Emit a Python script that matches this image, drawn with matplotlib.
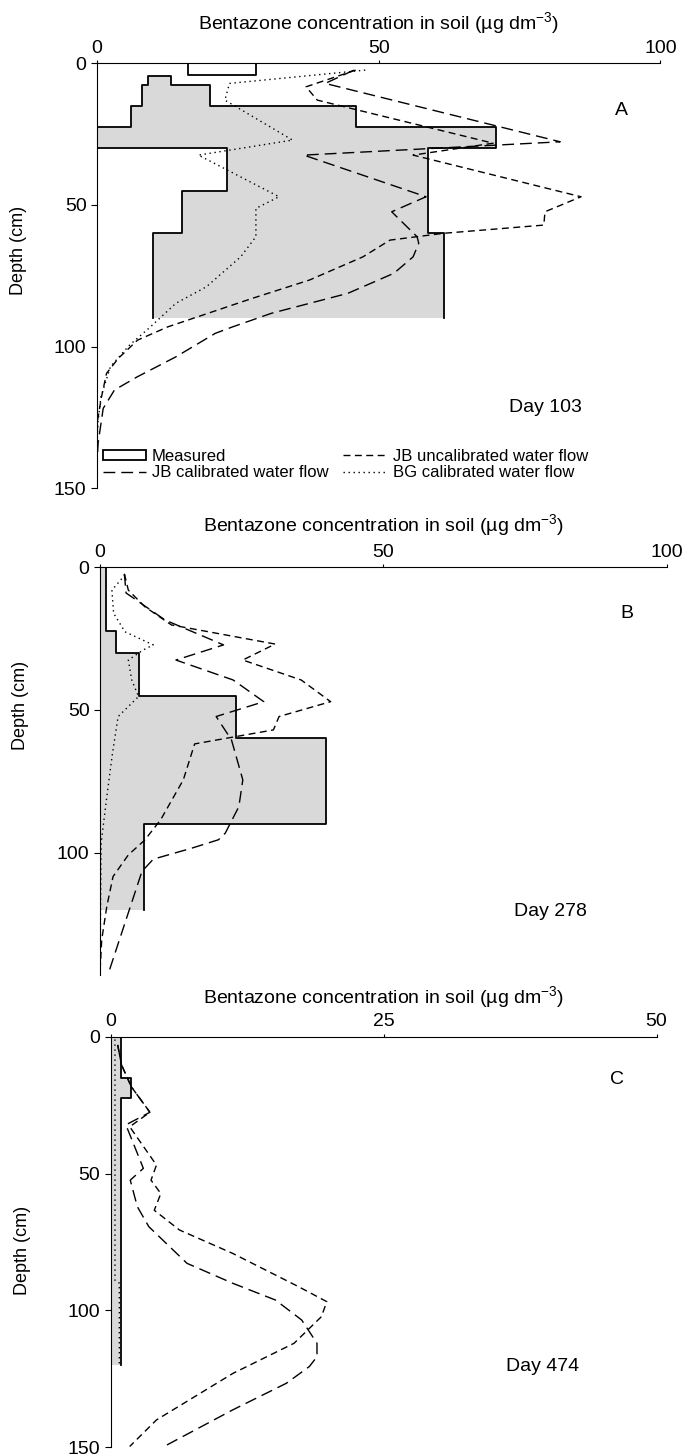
import numpy as np
import matplotlib
matplotlib.use("Agg")
import matplotlib.pyplot as plt

plt.rcParams["font.family"] = ["Liberation Sans", "DejaVu Sans"]
plt.rcParams["mathtext.fontset"] = "custom"
plt.rcParams["mathtext.rm"] = "Liberation Sans"
plt.rcParams["mathtext.it"] = "Liberation Sans:italic"

# ---- Panel A (day 103) ----
a_top_box = [0, 4]            # depth range of unshaded top measured box
a_top_vals = [16.1, 28.2]
a_layer_top = [4.5, 7.5, 15, 22.5, 30, 45, 60]
a_layer_bot = [7.5, 15, 22.5, 30, 45, 60, 90]
a_min = [9.1, 8.0, 6.0, 0.0, 23.0, 15.0, 9.9]
a_max = [13.1, 20.1, 46.0, 70.8, 58.8, 58.8, 61.5]

a_cal_d = [2.4, 7.1, 27.7, 32.4, 47.1, 52.4, 61.2, 63.5, 68.3, 74.1, 81.2, 88.2, 93, 95.3,
           103.6, 110.6, 115.3, 121.8, 134, 141]
a_cal_c = [45.6, 40.5, 82.2, 36.7, 58.4, 52.3, 56.8, 57.1, 56.1, 52.7, 44.5, 31.0, 24.1, 21.0,
           14.0, 7.2, 3.1, 1.1, 0.2, 0.0]
a_unc_d = [2.4, 8.3, 13, 28.2, 32.4, 47.1, 52.4, 57.1, 60, 62.4, 68.3, 76.5, 83, 93, 97.7,
           104.1, 109.4, 117.7, 126, 135]
a_unc_c = [45.9, 37.1, 39.1, 70.3, 56.1, 85.9, 79.5, 79.3, 61.5, 52.0, 47.2, 37.7, 27.5, 12.6,
           7.2, 3.8, 1.7, 0.8, 0.1, 0.0]
a_bg_d = [2.4, 7.1, 13, 27.1, 32.4, 47.1, 51.2, 61.2, 68.3, 78.9, 84.7, 93, 99.4, 107, 117.7,
          126, 133]
a_bg_c = [47.6, 23.5, 22.7, 34.7, 18.0, 32.3, 28.2, 28.2, 25.5, 19.4, 14.0, 9.5, 5.8, 2.4, 0.7,
          0.2, 0.0]

# ---- Panel B (day 278) ----
b_layer_top = [0, 22.5, 30, 45, 60, 90]
b_layer_bot = [22.5, 30, 45, 60, 90, 120]
b_min = [0.0, 0.0, 0.0, 0.0, 0.0, 0.0]
b_max = [1.0, 2.9, 6.9, 24.0, 39.8, 7.8]

b_cal_d = [2.3, 9, 18.5, 27.2, 32.5, 39.5, 47.1, 52.3, 60.5, 74.5, 83.9, 93.2, 95.5, 98.5,
           102.3, 106.6, 124.7, 142.2]
b_cal_c = [4.3, 4.6, 11.5, 21.8, 13.4, 23.5, 28.9, 20.5, 23.2, 25.2, 24.5, 22.1, 20.9, 16.1,
           9.4, 7.4, 4.4, 1.5]
b_unc_d = [2.3, 8, 13.8, 20.2, 26.9, 32.5, 39.5, 47.1, 52.3, 57, 61.9, 74.5, 88.5, 95.6,
           100.8, 108.4, 118.9, 130.6, 142]
b_unc_c = [4.3, 5.0, 7.9, 12.6, 30.9, 25.2, 35.5, 40.7, 31.6, 30.6, 16.7, 14.7, 10.7, 7.9,
           5.0, 2.3, 1.2, 0.3, 0.0]
b_bg_d = [2.7, 8, 16.1, 22.6, 27.2, 29, 32.5, 39.5, 45.3, 52.3, 65.2, 80.4, 96.7, 142]
b_bg_c = [4.4, 2.1, 2.4, 4.4, 9.4, 7.6, 5.0, 5.6, 6.8, 3.2, 2.2, 1.2, 0.2, 0.0]

# ---- Panel C (day 474) ----
c_layer_top = [0, 15, 22.5]
c_layer_bot = [15, 22.5, 120]
c_min = [0.0, 0.0, 0.0]
c_max = [0.95, 1.9, 0.95]

c_cal_d = [3, 10.3, 18.3, 27.6, 32.2, 48.1, 52.4, 62.1, 69.4, 82.8, 90.1, 96.2, 103.5, 112,
           116.9, 120.5, 126.6, 136.3, 149.7]
c_cal_c = [0.65, 1.0, 1.9, 3.6, 1.4, 3.0, 1.8, 2.45, 3.5, 7.0, 11.2, 15.1, 17.5, 18.9, 18.9,
           18.2, 16.1, 11.2, 4.9]
c_unc_d = [3, 10.3, 18.3, 27.6, 32.9, 46.9, 52.4, 57.3, 63.4, 70.6, 79.2, 91.3, 96.8, 102.3,
           112, 123, 140, 149.7]
c_unc_c = [0.65, 1.0, 1.9, 3.6, 1.75, 4.2, 3.7, 4.6, 4.0, 6.3, 11.2, 17.2, 19.8, 19.3, 16.8,
           11.2, 4.2, 1.75]
c_bg_d = [1, 89, 90, 120]
c_bg_c = [0.4, 0.4, 0.8, 0.8]

LONG = (0, (8.5, 4.3))
SHORT = (0, (5, 3.2))
DOT = (0, (1, 2.6))
GRAY = "#d9d9d9"
LW = 1.0

fig = plt.figure(figsize=(6.86, 14.56), dpi=100)
axA = fig.add_axes([0.1414, 0.66463, 0.8214, 0.29189])
axB = fig.add_axes([0.14577, 0.33036, 0.8261, 0.28001])
axC = fig.add_axes([0.16122, 0.005975, 0.79592, 0.28200])


def measured(ax, tops, bots, mins, maxs):
    ys = []
    xmax = []
    xmin = []
    for t, b, lo, hi in zip(tops, bots, mins, maxs):
        ys += [t, b]
        xmin += [lo, lo]
        xmax += [hi, hi]
    ax.fill_betweenx(ys, xmin, xmax, color=GRAY, lw=0, zorder=1)
    # outline: min boundary upward, across the top, max boundary downward
    ox = xmin[::-1] + xmax
    oy = ys[::-1] + ys
    ax.plot(ox, oy, color="black", lw=1.3, zorder=2)


def style(ax, xmax, xticks, ymax, yticks, ylab_y, title_off):
    ax.set_xlim(0, xmax)
    ax.set_ylim(ymax, 0)
    ax.xaxis.tick_top()
    ax.set_xticks(xticks)
    ax.set_yticks(yticks)
    ax.tick_params(axis="x", direction="out", length=2.5, pad=2, labelsize=14, width=0.8)
    ax.tick_params(axis="y", direction="out", length=4.5, pad=3, labelsize=14, width=0.8)
    for s in ["bottom", "right"]:
        ax.spines[s].set_visible(False)
    for s in ["top", "left"]:
        ax.spines[s].set_linewidth(0.8)
    ax.set_ylabel("Depth (cm)", fontsize=13)
    ax.yaxis.set_label_coords(-0.125, ylab_y)
    ax.text(0.5, 1 + title_off, "Bentazone concentration in soil (µg dm$^{\\mathrm{-3}}$)",
            transform=ax.transAxes, ha="center", va="center", fontsize=14)


# Panel A
axA.fill_betweenx(a_top_box, a_top_vals[0], a_top_vals[1], color="white", lw=0, zorder=1)
axA.plot([a_top_vals[0], a_top_vals[0], a_top_vals[1], a_top_vals[1], a_top_vals[0]],
         [a_top_box[0], a_top_box[1], a_top_box[1], a_top_box[0], a_top_box[0]],
         color="black", lw=1.3, zorder=2)
measured(axA, a_layer_top, a_layer_bot, a_min, a_max)
axA.plot(a_cal_c, a_cal_d, color="black", lw=LW, linestyle=LONG, zorder=3)
axA.plot(a_unc_c, a_unc_d, color="black", lw=LW, linestyle=SHORT, zorder=3)
axA.plot(a_bg_c, a_bg_d, color="black", lw=LW, linestyle=DOT, zorder=3)
style(axA, 100, [0, 50, 100], 150, [0, 50, 100, 150], 0.56, 0.094)
axA.text(93, 16.5, "A", fontsize=14, ha="center", va="center")
axA.text(79.5, 121.4, "Day 103", fontsize=14, ha="center", va="center")

h_meas = plt.Rectangle((0, 0), 1, 1, facecolor="white", edgecolor="black", lw=1.3)
h_cal, = axA.plot([], [], color="black", lw=LW, linestyle=LONG)
h_unc, = axA.plot([], [], color="black", lw=LW, linestyle=SHORT)
h_bg, = axA.plot([], [], color="black", lw=LW, linestyle=DOT)
axA.legend([h_meas, h_cal, h_unc, h_bg],
           ["Measured", "JB calibrated water flow", "JB uncalibrated water flow",
            "BG calibrated water flow"],
           ncol=2, loc="upper left", bbox_to_anchor=(0.01, 0.093), frameon=False,
           fontsize=12, handlelength=2.6, handleheight=0.5, handletextpad=0.35,
           columnspacing=0.9, labelspacing=0.1, borderpad=0, borderaxespad=0)

# Panel B
measured(axB, b_layer_top, b_layer_bot, b_min, b_max)
axB.plot(b_cal_c, b_cal_d, color="black", lw=LW, linestyle=LONG, zorder=3)
axB.plot(b_unc_c, b_unc_d, color="black", lw=LW, linestyle=SHORT, zorder=3)
axB.plot(b_bg_c, b_bg_d, color="black", lw=LW, linestyle=DOT, zorder=3)
style(axB, 100, [0, 50, 100], 142.9, [0, 50, 100], 0.66, 0.104)
axB.text(93, 16.1, "B", fontsize=14, ha="center", va="center")
axB.text(79.5, 120.7, "Day 278", fontsize=14, ha="center", va="center")

# Panel C
measured(axC, c_layer_top, c_layer_bot, c_min, c_max)
axC.plot(c_cal_c, c_cal_d, color="black", lw=LW, linestyle=LONG, zorder=3)
axC.plot(c_unc_c, c_unc_d, color="black", lw=LW, linestyle=SHORT, zorder=3)
axC.plot(c_bg_c, c_bg_d, color="black", lw=LW, linestyle=DOT, zorder=3)
style(axC, 50, [0, 25, 50], 150, [0, 50, 100, 150], 0.48, 0.097)
axC.yaxis.set_label_coords(-0.145, 0.48)
axC.text(46.4, 15.8, "C", fontsize=14, ha="center", va="center")
axC.text(39.6, 120.5, "Day 474", fontsize=14, ha="center", va="center")

fig.savefig("out.png", dpi=100)
